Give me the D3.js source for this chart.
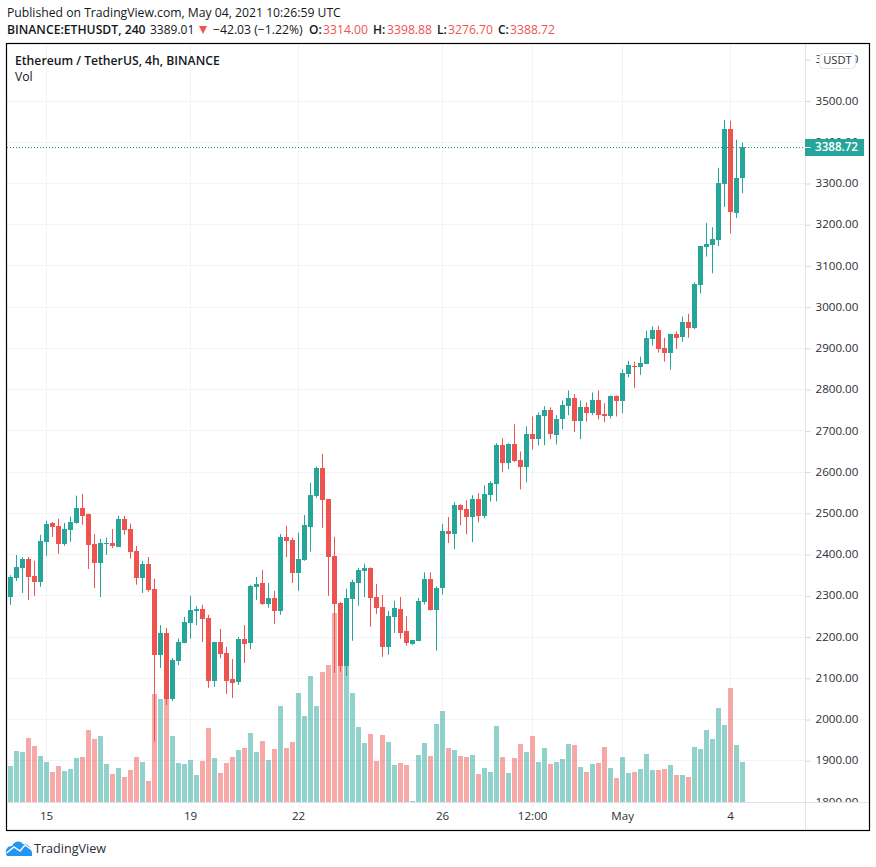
<!DOCTYPE html>
<html>
<head>
<meta charset="utf-8">
<style>
  html, body { margin: 0; padding: 0; background: #fff; }
  text { font-family: "Open Sans", sans-serif; fill: #131722; }
</style>
</head>
<body>
<div id="chart"></div>
<script src="https://cdnjs.cloudflare.com/ajax/libs/d3/7.8.5/d3.min.js"></script>
<script>
// Candle data, 4h bars
var opens = [2297,2344,2368,2390,2348,2334,2431,2477,2470,2426,
  2460,2477,2513,2499,2426,2380,2426,2428,2419,2487,
  2462,2409,2344,2378,2317,2157,2210,2050,2142,2186,
  2234,2263,2268,2246,2094,2188,2161,2098,2091,2196,
  2186,2322,2331,2280,2295,2263,2443,2436,2356,2387,
  2467,2543,2611,2535,2397,2283,2130,2293,2331,2361,
  2368,2297,2273,2176,2249,2268,2215,2183,2191,2286,
  2342,2267,2318,2457,2449,2520,2510,2490,2534,2493,
  2544,2570,2665,2621,2667,2629,2612,2692,2680,2735,
  2750,2692,2728,2760,2779,2723,2757,2743,2774,2740,
  2735,2784,2772,2837,2858,2855,2863,2924,2945,2902,
  2890,2936,2926,2963,2948,3053,3145,3150,3162,3299,
  3432,3230,3314];
var closes = [2346,2370,2390,2346,2334,2433,2475,2467,2426,2462,
  2479,2513,2494,2424,2380,2428,2428,2421,2487,2460,
  2407,2344,2378,2314,2157,2210,2050,2144,2188,2237,
  2266,2268,2244,2094,2188,2159,2094,2089,2196,2183,
  2324,2329,2280,2295,2263,2443,2433,2356,2390,2472,
  2545,2611,2533,2394,2280,2130,2295,2334,2363,2368,
  2295,2271,2176,2251,2271,2210,2186,2193,2288,2342,
  2266,2320,2457,2449,2520,2507,2490,2534,2493,2546,
  2573,2665,2621,2667,2626,2612,2692,2680,2738,2750,
  2692,2730,2762,2779,2723,2757,2743,2774,2738,2735,
  2784,2772,2840,2859,2856,2865,2926,2945,2899,2890,
  2936,2926,2963,2948,3055,3148,3152,3165,3301,3432,
  3230,3314,3388.72];
var highs = [2350,2399,2394,2394,2385,2448,2482,2479,2487,2477,
  2492,2543,2547,2499,2450,2438,2441,2462,2494,2494,
  2475,2421,2385,2394,2341,2229,2222,2149,2196,2249,
  2300,2276,2278,2254,2189,2220,2176,2147,2200,2229,
  2327,2346,2363,2331,2312,2450,2470,2441,2453,2496,
  2574,2613,2644,2535,2443,2285,2317,2339,2368,2378,
  2369,2329,2302,2263,2288,2297,2251,2193,2295,2357,
  2357,2323,2474,2491,2527,2522,2532,2544,2549,2568,
  2578,2670,2682,2670,2716,2650,2711,2735,2745,2760,
  2757,2738,2774,2798,2789,2774,2769,2793,2798,2767,
  2786,2786,2849,2870,2868,2880,2943,2953,2955,2926,
  2936,2941,2977,2984,3060,3148,3204,3194,3338,3454,
  3452,3406,3398.88];
var lows = [2278,2336,2307,2290,2300,2322,2397,2443,2402,2421,
  2431,2475,2472,2365,2319,2297,2399,2416,2418,2448,
  2390,2327,2307,2310,1946,2125,2035,2045,2132,2185,
  2196,2229,2188,2077,2079,2149,2062,2052,2084,2137,
  2171,2290,2278,2271,2232,2254,2394,2331,2312,2385,
  2407,2538,2465,2300,2113,2115,2106,2191,2276,2297,
  2225,2256,2152,2157,2210,2196,2179,2181,2190,2279,
  2264,2167,2303,2428,2413,2471,2449,2430,2478,2488,
  2529,2529,2600,2607,2624,2558,2575,2655,2665,2665,
  2680,2667,2704,2738,2697,2680,2723,2738,2728,2721,
  2730,2735,2743,2830,2804,2836,2862,2907,2890,2868,
  2848,2899,2916,2926,2947,3033,3123,3082,3148,3243,
  3179,3216,3276.70];
// Volume has no visible axis, so units are only relative
var volumes = [109,154,151,193,169,139,121,91,109,94,
  100,133,136,217,190,199,115,85,103,76,
  97,136,121,64,325,310,310,199,118,115,
  127,82,124,223,133,88,118,136,157,163,
  208,151,184,127,160,289,163,181,328,259,
  379,289,391,412,568,412,412,328,226,178,
  205,124,202,181,112,118,112,4,142,178,
  139,235,274,163,157,139,136,142,85,103,
  91,229,136,88,133,175,151,199,121,163,
  115,121,130,175,172,106,91,115,118,166,
  103,73,136,88,91,100,145,97,97,100,
  112,82,82,76,166,160,217,190,283,232,
  343,172,121];

// Axis ticks
var priceTicks = [1800,1900,2000,2100,2200,2300,2400,2500,2600,2700,2800,2900,3000,3100,3200,3300,3400,3500,3600];
var timeTickBars = [6,30,48,72,87,102,120];
var timeTickLabels = ["15","19","22","26","12:00","May","4"];

var lastPrice = 3388.72;

// svg container
var svgWidth = 876;
var svgHeight = 867;

// chart frame and pane edges
var frame = {left: 6.5, right: 869.5, top: 43.5, bottom: 830.5};
var paneRight = 805.5;
var paneBottom = 802.5;

var green = "#26a69a";
var red = "#ef5350";
var gridColor = "#f1f3f6";
var axisColor = "#e0e3eb";
var textColor = "#131722";

var svg = d3.select("#chart")
  .append("svg")
  .attr("width", svgWidth)
  .attr("height", svgHeight)
  .style("display", "block");

// Scales
var xScale = d3.scaleLinear().domain([0, 122]).range([10.5, 742.5]);
var yScale = d3.scaleLinear().domain([1800, 3500]).range([802, 101]);
var volScale = d3.scaleLinear().domain([0, d3.max(volumes)]).range([802, 613]);

var bars = d3.range(opens.length);
var barColor = i => closes[i] >= opens[i] ? green : red;
var crisp = v => Math.floor(v) + 0.5;
var lastY = Math.round(yScale(lastPrice)) + 0.5;

// Grid lines
svg.append("g").selectAll("line")
  .data(priceTicks.filter(d => d > 1800 && d < 3600))
  .enter().append("line")
  .attr("x1", frame.left)
  .attr("x2", paneRight)
  .attr("y1", d => crisp(yScale(d)))
  .attr("y2", d => crisp(yScale(d)))
  .attr("stroke", gridColor);

svg.append("g").selectAll("line")
  .data(timeTickBars)
  .enter().append("line")
  .attr("x1", d => xScale(d))
  .attr("x2", d => xScale(d))
  .attr("y1", frame.top)
  .attr("y2", paneBottom)
  .attr("stroke", gridColor);

// Volume bars, behind the candles
svg.append("g").selectAll("rect")
  .data(bars)
  .enter().append("rect")
  .attr("x", i => xScale(i) - 2.5)
  .attr("width", 5)
  .attr("y", i => Math.round(volScale(volumes[i])))
  .attr("height", i => 802 - Math.round(volScale(volumes[i])))
  .attr("fill", barColor)
  .attr("fill-opacity", 0.5);

// Candle wicks
svg.append("g").selectAll("line")
  .data(bars)
  .enter().append("line")
  .attr("x1", i => xScale(i))
  .attr("x2", i => xScale(i))
  .attr("y1", i => yScale(highs[i]))
  .attr("y2", i => yScale(lows[i]))
  .attr("stroke", barColor);

// Candle bodies
svg.append("g").selectAll("rect")
  .data(bars)
  .enter().append("rect")
  .attr("x", i => xScale(i) - 2.5)
  .attr("width", 5)
  .attr("y", i => Math.round(yScale(Math.max(opens[i], closes[i]))))
  .attr("height", i => Math.max(1, Math.round(Math.abs(yScale(opens[i]) - yScale(closes[i])))))
  .attr("fill", barColor);

// Last price dotted line
svg.append("line")
  .attr("x1", 7)
  .attr("x2", paneRight)
  .attr("y1", lastY)
  .attr("y2", lastY)
  .attr("stroke", "#1f8f85")
  .attr("stroke-dasharray", "1 2");

// Price axis, labels cut off at the time axis
svg.append("clipPath").attr("id", "priceClip")
  .append("rect")
  .attr("x", paneRight)
  .attr("y", frame.top)
  .attr("width", frame.right - paneRight)
  .attr("height", paneBottom - frame.top);

var priceAxis = svg.append("g")
  .attr("clip-path", "url(#priceClip)");

var priceAxisInner = priceAxis.append("g")
  .attr("transform", `translate(${paneRight}, 0)`)
  .call(d3.axisRight(yScale).tickValues(priceTicks).tickSize(5).tickPadding(5).tickFormat(d3.format(".2f")));
priceAxisInner.select(".domain").remove();
priceAxisInner.selectAll("line").attr("stroke", "#d4d6dc");
priceAxisInner.selectAll("text")
  .attr("dy", "0.27em")
  .style("font-family", '"Open Sans", sans-serif')
  .style("font-size", "11.6px")
  .style("fill", "#2a2e39");

// Time axis
var timeAxis = svg.append("g")
  .attr("transform", `translate(0, ${paneBottom})`)
  .call(d3.axisBottom(xScale).tickValues(timeTickBars).tickSize(4).tickPadding(5)
    .tickFormat((d, i) => timeTickLabels[i]));
timeAxis.select(".domain").remove();
timeAxis.selectAll("line").attr("stroke", gridColor);
timeAxis.selectAll("text")
  .attr("dx", "-0.4")
  .style("font-family", '"Open Sans", sans-serif')
  .style("font-size", "11.6px")
  .style("fill", "#2a2e39");

// Pane borders
svg.append("line")
  .attr("x1", paneRight).attr("x2", paneRight)
  .attr("y1", frame.top).attr("y2", frame.bottom)
  .attr("stroke", axisColor);
svg.append("line")
  .attr("x1", frame.left).attr("x2", frame.right)
  .attr("y1", paneBottom).attr("y2", paneBottom)
  .attr("stroke", axisColor);

// Last price label
svg.append("rect")
  .attr("x", paneRight - 0.5)
  .attr("y", lastY - 8.5)
  .attr("width", 59)
  .attr("height", 17)
  .attr("fill", green);
svg.append("line")
  .attr("x1", paneRight).attr("x2", paneRight + 5)
  .attr("y1", lastY)
  .attr("y2", lastY)
  .attr("stroke", "#fff");
svg.append("text")
  .attr("x", 815)
  .attr("y", lastY)
  .attr("dy", "0.33em")
  .style("font-size", "11.6px")
  .style("font-weight", 600)
  .style("fill", "#fff")
  .text(lastPrice.toFixed(2));

// Currency badge
svg.append("rect")
  .attr("x", 819.5).attr("y", 53.5)
  .attr("width", 36).attr("height", 15)
  .attr("rx", 4)
  .attr("fill", "#fff")
  .attr("stroke", axisColor);
svg.append("text")
  .attr("x", 837.5).attr("y", 60)
  .attr("dy", "0.35em")
  .attr("text-anchor", "middle")
  .style("font-size", "11.2px")
  .style("fill", "#2a2e39")
  .text("USDT");

// Outer frame
svg.append("rect")
  .attr("x", frame.left)
  .attr("y", frame.top)
  .attr("width", frame.right - frame.left)
  .attr("height", frame.bottom - frame.top)
  .attr("fill", "none")
  .attr("stroke", "#000")
  .attr("stroke-width", 1.2);

// Header text
function label(x, y, str, size, weight, color) {
  return svg.append("text")
    .attr("x", x)
    .attr("y", y)
    .attr("dy", "0.35em")
    .style("font-size", size + "px")
    .style("font-weight", weight)
    .style("fill", color)
    .text(str);
}

label(7, 12.5, "Published on TradingView.com, May 04, 2021 10:26:59 UTC", 12.2, 400, textColor);

label(7, 29.5, "BINANCE:ETHUSDT, 240", 12.2, 600, textColor);
label(150, 29.5, "3389.01", 12, 400, textColor);
svg.append("path")
  .attr("d", "M199 26L207 26L203 34Z")
  .attr("fill", red);
label(213, 29.5, "\u221242.03 (\u22121.22%)", 12.2, 400, textColor);
label(309, 29.5, "O:", 12, 600, textColor);
label(323, 29.5, "3314.00", 12.2, 400, red);
label(373, 29.5, "H:", 12, 600, textColor);
label(387, 29.5, "3398.88", 12.2, 400, red);
label(437, 29.5, "L:", 12, 600, textColor);
label(448, 29.5, "3276.70", 12.2, 400, red);
label(498, 29.5, "C:", 12, 600, textColor);
label(510, 29.5, "3388.72", 12.2, 400, red);

label(15, 60.5, "Ethereum / TetherUS, 4h, BINANCE", 12.2, 600, textColor);
label(15, 77, "Vol", 12.2, 400, textColor);

// Footer logo
svg.append("path")
  .attr("d", "M7 856C4 851 7 846 12 846C14 841 20 840 23 844C28 843 33 849 32 856Z")
  .attr("fill", "#2196f3");
svg.append("path")
  .attr("d", "M6.5 853L14 847L20 851L25 845L32 850")
  .attr("fill", "none")
  .attr("stroke", "#fff")
  .attr("stroke-width", 1.5);
label(34, 849, "TradingView", 12.6, 400, "#2a2e39");
</script>
</body>
</html>
